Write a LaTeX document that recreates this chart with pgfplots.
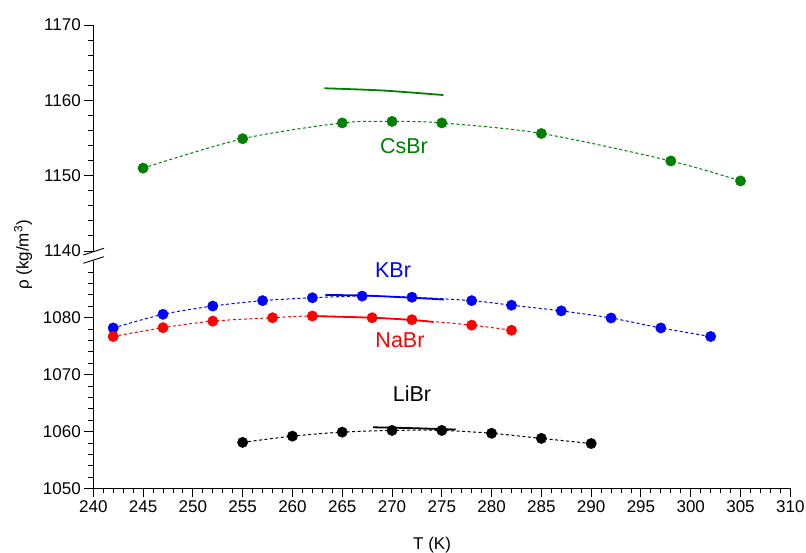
\documentclass[border=0pt]{standalone}
\usepackage{fontspec}
\setmainfont{Liberation Sans}
\usepackage{pgfplots}
\pgfplotsset{compat=1.18}
\definecolor{cgreen}{RGB}{0,128,0}
\pgfplotsset{
  brk/.style={scale only axis, width=697pt, xmin=240, xmax=310, anchor=south west,
    axis line style={-, line width=0.9pt, black},
    every tick/.style={line width=0.9pt, black},
    tick align=outside, major tick length=9pt, minor tick length=5pt,
    /pgf/number format/assume math mode=true, /pgf/number format/1000 sep={},
    tick label style={font=\fontsize{17}{20}\selectfont},
    clip=false},
  fit/.style={dash pattern=on 3pt off 2.5pt, line width=1pt, smooth},
  dat/.style={only marks, mark=*, mark size=5.2pt},
  sol/.style={line width=1.8pt, smooth, no marks},
}
\pgfplotstableread{
T rho
255 1058.1
260 1059.2
265 1059.9
270 1060.2
275 1060.2
280 1059.7
285 1058.8
290 1057.9
}\libr
\pgfplotstableread{
T rho
242 1078.2
247 1080.6
252 1082.05
257 1083.0
262 1083.5
267 1083.8
272 1083.6
278 1083.0
282 1082.2
287 1081.2
292 1079.95
297 1078.2
302 1076.7
}\kbr
\pgfplotstableread{
T rho
242 1076.7
247 1078.25
252 1079.4
258 1080.0
262 1080.3
268 1080.0
272 1079.65
278 1078.7
282 1077.8
}\nabr
\pgfplotstableread{
T rho
245 1151.0
255 1154.9
265 1157.0
270 1157.2
275 1157.0
285 1155.6
298 1151.95
305 1149.3
}\csbr
\begin{document}
\begin{tikzpicture}[x=1pt,y=1pt]
\useasboundingbox (0,0) rectangle (806,553);
% lower axis
\begin{axis}[brk, at={(93.3pt,64.5pt)}, height=227.7pt,
  ymin=1050, ymax=1090,
  axis x line*=bottom, axis y line*=left,
  xtick={240,245,...,310}, minor x tick num=4,
  ytick={1050,1060,1070,1080}, minor ytick={1052,1054,...,1088},
  xlabel={T (K)},
  x label style={at={(axis description cs:0.486,0)}, anchor=center, yshift=-57pt, font=\fontsize{17}{20}\selectfont},
]
\addplot[black, fit] table[x=T,y=rho] {\libr};
\addplot[black, dat] table[x=T,y=rho] {\libr};
\addplot[black, sol] coordinates {(268.1,1060.75) (272,1060.6) (276.4,1060.35)};
\addplot[blue, fit] table[x=T,y=rho] {\kbr};
\addplot[blue, dat] table[x=T,y=rho] {\kbr};
\addplot[blue, sol] coordinates {(263.3,1084.0) (267.1,1083.9) (271,1083.6) (275.2,1083.2)};
\addplot[red, fit] table[x=T,y=rho] {\nabr};
\addplot[red, dat] table[x=T,y=rho] {\nabr};
\addplot[red, sol] coordinates {(261.8,1080.3) (268,1080.0) (272,1079.6) (274.15,1079.25)};
\node[blue, font=\fontsize{21.5}{24}\selectfont] at (axis cs:270.1,1088.4) {KBr};
\node[red, font=\fontsize{21.5}{24}\selectfont] at (axis cs:270.8,1076.1) {NaBr};
\node[black, font=\fontsize{21.5}{24}\selectfont] at (axis cs:272.0,1066.6) {LiBr};
\end{axis}
% upper axis
\begin{axis}[brk, at={(93.3pt,302pt)}, height=226pt,
  ymin=1140, ymax=1170,
  axis x line=none, axis y line*=left,
  ytick={1140,1150,1160,1170}, minor ytick={1142,1144,...,1168},
]
\addplot[cgreen, fit] table[x=T,y=rho] {\csbr};
\addplot[cgreen, dat] table[x=T,y=rho] {\csbr};
\addplot[cgreen, sol] coordinates {(263.2,1161.6) (269.1,1161.3) (275.15,1160.7)};
\node[cgreen, font=\fontsize{21.5}{24}\selectfont] at (axis cs:271.2,1153.9) {CsBr};
\end{axis}
% axis break marks
\draw[line width=0.9pt] (83.3,298) -- (104,304.7);
\draw[line width=0.9pt] (83.3,289.7) -- (104,296.3);
\node[rotate=90, font=\fontsize{17}{20}\selectfont] at (23,298) {ρ (kg/m\textsuperscript{3})};
\end{tikzpicture}
\end{document}
